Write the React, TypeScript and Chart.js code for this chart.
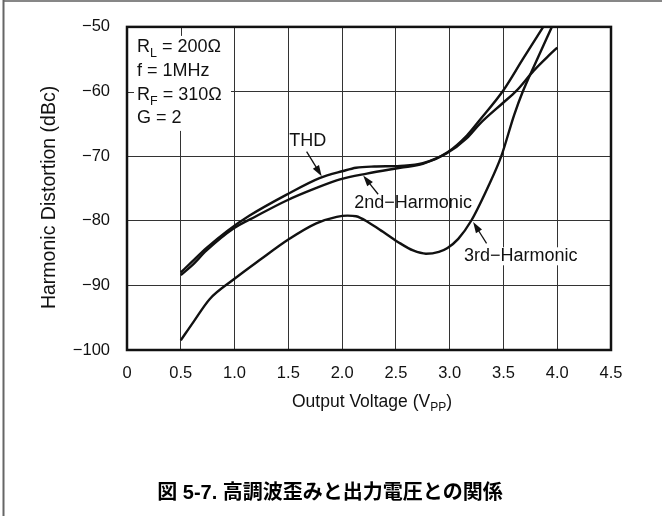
import React, { useEffect, useRef } from "react";
import { Chart, registerables } from "chart.js";

Chart.register(...registerables);

// ---- data ----
const thdX = [0.5, 0.6, 0.74, 0.93, 1.14, 1.48, 1.79, 2.01, 2.13, 2.3, 2.54, 2.75, 2.98, 3.16, 3.28, 3.5, 3.68, 3.87];
const thdY = [-88.0, -86.4, -84.2, -81.6, -79.2, -76.0, -73.4, -72.3, -71.8, -71.6, -71.5, -71.1, -69.4, -66.8, -64.4, -59.8, -55.0, -50.0];

const h2X = [0.5, 0.6, 0.74, 0.99, 1.2, 1.48, 1.75, 1.98, 2.23, 2.54, 2.75, 2.97, 3.16, 3.28, 3.5, 3.62, 3.78, 3.93, 4.0];
const h2Y = [-88.4, -87.0, -84.6, -81.2, -79.3, -76.9, -75.0, -73.6, -72.7, -71.8, -71.2, -69.6, -67.2, -65.0, -61.7, -59.9, -56.8, -54.3, -53.2];

const h3X = [0.5, 0.62, 0.77, 0.99, 1.24, 1.5, 1.76, 1.95, 2.05, 2.13, 2.25, 2.38, 2.54, 2.66, 2.78, 2.9, 2.98, 3.08, 3.2, 3.35, 3.48, 3.6, 3.68, 3.8, 3.95];
const h3Y = [-98.5, -95.6, -92.1, -89.1, -86.0, -82.9, -80.4, -79.4, -79.2, -79.3, -80.3, -81.7, -83.5, -84.6, -85.1, -84.8, -84.2, -82.8, -80.0, -75.0, -70.0, -63.6, -60.0, -55.5, -50.0];

const xTicks = [0, 0.5, 1.0, 1.5, 2.0, 2.5, 3.0, 3.5, 4.0, 4.5];
const xTickLabels = ["0", "0.5", "1.0", "1.5", "2.0", "2.5", "3.0", "3.5", "4.0", "4.5"];
const yTicks = [-100, -90, -80, -70, -60, -50];
const yTickLabels = ["\u2212100", "\u221290", "\u221280", "\u221270", "\u221260", "\u221250"];

const xTitle = [{ t: "Output Voltage (V" }, { t: "PP", sub: true }, { t: ")" }];
const yTitle = "Harmonic Distortion (dBc)";
const caption = "図 5-7. 高調波歪みと出力電圧との関係";
const conditions = [
  [{ t: "R" }, { t: "L", sub: true }, { t: " = 200Ω" }],
  [{ t: "f = 1MHz" }],
  [{ t: "R" }, { t: "F", sub: true }, { t: " = 310Ω" }],
  [{ t: "G = 2" }],
];

// labels: text, text centre (data), arrow tail (data), arrow tip (data)
const labels = [
  { text: "THD", at: [1.68, -67.7], tail: [1.67, -69.3], tip: [1.81, -73.1], bg: false },
  { text: "2nd\u2212Harmonic", at: [2.66, -77.3], tail: [2.335, -75.9], tip: [2.196, -73.0], bg: false },
  { text: "3rd\u2212Harmonic", at: [3.66, -85.5], tail: [3.343, -83.5], tip: [3.218, -80.2], bg: true },
];

const FONT = '"Liberation Sans", Arial, Helvetica, sans-serif';
const W = 662;
const H = 516;
const LABEL_SIZE = 18;

type Part = { t: string; sub?: boolean };

function richWidth(ctx: CanvasRenderingContext2D, parts: Part[], size: number, subSize: number) {
  let w = 0;
  for (const p of parts) {
    ctx.font = `${p.sub ? subSize : size}px ${FONT}`;
    w += ctx.measureText(p.t).width;
  }
  return w;
}

function drawRich(ctx: CanvasRenderingContext2D, parts: Part[], x: number, y: number, size: number, subSize: number, subShift: number) {
  ctx.textAlign = "left";
  ctx.textBaseline = "alphabetic";
  let cx = x;
  for (const p of parts) {
    ctx.font = `${p.sub ? subSize : size}px ${FONT}`;
    ctx.fillText(p.t, cx, p.sub ? y + subShift : y);
    cx += ctx.measureText(p.t).width;
  }
}

function arrow(ctx: CanvasRenderingContext2D, x1: number, y1: number, x2: number, y2: number) {
  const ang = Math.atan2(y2 - y1, x2 - x1);
  const len = 11;
  const hw = 3.6;
  ctx.beginPath();
  ctx.moveTo(x1, y1);
  ctx.lineTo(x2 - Math.cos(ang) * len * 0.8, y2 - Math.sin(ang) * len * 0.8);
  ctx.lineWidth = 1.3;
  ctx.strokeStyle = "#111";
  ctx.stroke();
  ctx.beginPath();
  ctx.moveTo(x2, y2);
  ctx.lineTo(x2 - Math.cos(ang) * len - Math.sin(ang) * hw, y2 - Math.sin(ang) * len + Math.cos(ang) * hw);
  ctx.lineTo(x2 - Math.cos(ang) * len + Math.sin(ang) * hw, y2 - Math.sin(ang) * len - Math.cos(ang) * hw);
  ctx.closePath();
  ctx.fillStyle = "#111";
  ctx.fill();
}

const decorPlugin = {
  id: "decor",
  beforeDatasetsDraw(chart: any) {
    const ctx: CanvasRenderingContext2D = chart.ctx;
    const a = chart.chartArea;
    ctx.save();
    ctx.fillStyle = "#fff";
    ctx.fillRect(a.left, a.top, 104, 104);
    const xs = chart.scales.x;
    const ys = chart.scales.y;
    ctx.strokeStyle = "#333";
    ctx.lineWidth = 1;
    const px = Math.round(xs.getPixelForValue(0.5)) + 0.5;
    ctx.beginPath();
    ctx.moveTo(px, a.top);
    ctx.lineTo(px, a.top + 9);
    const py = Math.round(ys.getPixelForValue(-60)) + 0.5;
    ctx.moveTo(a.left, py);
    ctx.lineTo(a.left + 7, py);
    ctx.stroke();
    ctx.font = `${LABEL_SIZE}px ${FONT}`;
    for (const l of labels) {
      if (!l.bg) continue;
      const w = ctx.measureText(l.text).width;
      const cx = xs.getPixelForValue(l.at[0]);
      const cy = ys.getPixelForValue(l.at[1]);
      ctx.fillRect(cx - w / 2 - 1, cy - 9, w + 2, 18);
    }
    ctx.restore();
  },
  afterDatasetsDraw(chart: any) {
    const ctx: CanvasRenderingContext2D = chart.ctx;
    const a = chart.chartArea;
    const xs = chart.scales.x;
    const ys = chart.scales.y;
    ctx.save();
    ctx.strokeStyle = "#111";
    ctx.lineWidth = 2.5;
    ctx.strokeRect(a.left, a.top, a.right - a.left, a.bottom - a.top);

    ctx.fillStyle = "#111";
    conditions.forEach((parts, i) => {
      drawRich(ctx, parts, a.left + 10, a.top + 25 + i * 23.8, LABEL_SIZE, 12.5, 5);
    });

    for (const l of labels) {
      ctx.font = `${LABEL_SIZE}px ${FONT}`;
      ctx.textAlign = "center";
      ctx.textBaseline = "middle";
      ctx.fillStyle = "#111";
      ctx.fillText(l.text, xs.getPixelForValue(l.at[0]), ys.getPixelForValue(l.at[1]));
      arrow(
        ctx,
        xs.getPixelForValue(l.tail[0]),
        ys.getPixelForValue(l.tail[1]),
        xs.getPixelForValue(l.tip[0]),
        ys.getPixelForValue(l.tip[1])
      );
    }

    ctx.fillStyle = "#111";
    const tw = richWidth(ctx, xTitle, 17.5, 12);
    drawRich(ctx, xTitle, (a.left + a.right) / 2 + 3 - tw / 2, a.bottom + 57, 17.5, 12, 4);

    ctx.save();
    ctx.translate(50, (a.top + a.bottom) / 2 + 9);
    ctx.rotate(-Math.PI / 2);
    ctx.font = `19.5px ${FONT}`;
    ctx.textAlign = "center";
    ctx.textBaseline = "middle";
    ctx.fillText(yTitle, 0, 0);
    ctx.restore();

    ctx.font = `bold 20px ${FONT}, "Noto Sans CJK JP"`;
    ctx.textAlign = "center";
    ctx.textBaseline = "middle";
    ctx.fillStyle = "#000";
    ctx.fillText(caption, 330, 493);

    ctx.strokeStyle = "#111";
    ctx.lineWidth = 1.2;
    ctx.beginPath();
    ctx.moveTo(3, 1);
    ctx.lineTo(W, 1);
    ctx.stroke();
    ctx.strokeStyle = "#666";
    ctx.lineWidth = 2;
    ctx.beginPath();
    ctx.moveTo(3.5, 0);
    ctx.lineTo(3.5, H);
    ctx.stroke();
    ctx.restore();
  },
};

function pts(xs: number[], ys: number[]) {
  return xs.map((x, i) => ({ x, y: ys[i] }));
}

export default function App() {
  const ref = useRef<HTMLCanvasElement | null>(null);

  useEffect(() => {
    document.body.style.margin = "0";
    const canvas = ref.current;
    if (!canvas) return;
    const ds = (label: string, xs: number[], ys: number[]) => ({
      label,
      data: pts(xs, ys),
      borderColor: "#111",
      borderWidth: 2.4,
      pointRadius: 0,
      fill: false,
      cubicInterpolationMode: "monotone" as const,
    });
    const chart = new Chart(canvas, {
      type: "line",
      data: {
        datasets: [ds("THD", thdX, thdY), ds("2nd-Harmonic", h2X, h2Y), ds("3rd-Harmonic", h3X, h3Y)],
      },
      options: {
        animation: false,
        responsive: false,
        devicePixelRatio: 1,
        layout: { padding: { left: 0, top: 22, right: 51, bottom: 0 } },
        plugins: { legend: { display: false }, tooltip: { enabled: false }, title: { display: false } },
        scales: {
          x: {
            type: "linear",
            min: 0,
            max: 4.5,
            afterBuildTicks: (s: any) => {
              s.ticks = xTicks.map((v) => ({ value: v }));
            },
            afterFit: (s: any) => {
              s.height = 166;
            },
            ticks: {
              autoSkip: false,
              maxRotation: 0,
              padding: 14,
              color: "#111",
              font: { family: FONT, size: 16.5 },
              callback: (_v: any, i: number) => xTickLabels[i],
            },
            grid: { color: "#333", lineWidth: 1, drawTicks: false },
            border: { display: false },
          },
          y: {
            type: "linear",
            min: -100,
            max: -50,
            afterBuildTicks: (s: any) => {
              s.ticks = yTicks.map((v) => ({ value: v }));
            },
            afterFit: (s: any) => {
              s.width = 127;
            },
            ticks: {
              padding: 17,
              color: "#111",
              font: { family: FONT, size: 16.5 },
              callback: (_v: any, i: number) => yTickLabels[i],
            },
            grid: { color: "#333", lineWidth: 1, drawTicks: false },
            border: { display: false },
          },
        },
      },
      plugins: [decorPlugin],
    } as any);
    return () => chart.destroy();
  }, []);

  return (
    <div style={{ position: "fixed", left: 0, top: 0, width: W, height: H, background: "#fff" }}>
      <canvas ref={ref} width={W} height={H} style={{ display: "block", width: W, height: H }} />
    </div>
  );
}
